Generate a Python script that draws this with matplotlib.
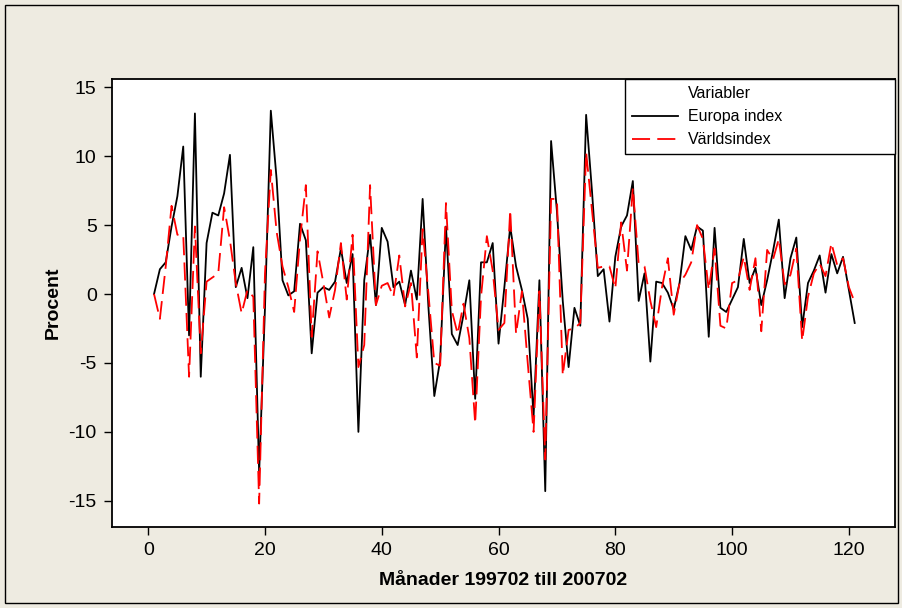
import numpy as np
import matplotlib
matplotlib.use("Agg")
import matplotlib.pyplot as plt
from matplotlib.patches import Rectangle

# Monthly returns, 199702 - 200702 (index 1..121)
europa = [0, 1.8, 2.3, 4.9, 7.1, 10.7, -3.0, 13.1, -6.0, 3.7,
          5.9, 5.7, 7.3, 10.1, 0.5, 1.9, -0.3, 3.4, -13.0, -1.0,
          13.3, 8.3, 1.0, -0.1, 0.2, 5.1, 3.9, -4.3, 0.1, 0.5,
          0.3, 0.9, 3.3, 0.8, 2.9, -10.0, 1.0, 4.3, -0.8, 4.8,
          3.8, 0.5, 0.9, -0.8, 1.7, -0.4, 6.9, -1.0, -7.4, -4.8,
          4.9, -2.9, -3.7, -1.5, 1.0, -7.6, 2.3, 2.3, 3.7, -3.6,
          0.5, 4.9, 2.0, 0.3, -1.8, -8.9, 1.0, -14.3, 11.1, 6.0,
          -0.5, -5.3, -1.0, -2.3, 13.0, 7.5, 1.3, 1.8, -2.0, 2.7,
          4.9, 5.7, 8.2, -0.5, 1.5, -4.9, 0.9, 0.8, 0.1, -1.1,
          0.8, 4.2, 3.2, 4.9, 4.6, -3.1, 4.8, -1.0, -1.3, -0.4,
          0.5, 4.0, 0.8, 1.9, -0.8, 1.0, 3.1, 5.4, -0.3, 2.6,
          4.1, -2.4, 0.8, 1.7, 2.8, 0.1, 2.9, 1.5, 2.7, 0.3,
          -2.1]
varlden = [0, -1.8, 2.0, 6.4, 4.3, 4.3, -6.0, 4.9, -4.3, 0.9,
           1.2, 1.5, 6.3, 3.9, 0.8, -1.4, 0.3, -0.2, -15.2, 1.5,
           9.0, 4.5, 2.0, 0.5, -1.3, 4.0, 7.9, -3.1, 3.1, 0.8,
           -1.7, 0.3, 3.7, -0.4, 4.3, -5.3, -3.7, 7.9, -0.8, 0.6,
           0.8, -0.2, 2.8, -0.9, 0.8, -4.6, 4.7, 0.0, -5.0, -5.2,
           6.6, -1.2, -2.9, -0.7, -3.2, -9.4, -0.2, 4.2, 1.7, -2.6,
           -2.1, 6.1, -2.9, 0.2, -5.0, -10.0, 0.2, -12.0, 6.9, 6.9,
           -5.9, -2.6, -2.5, -2.1, 10.3, 6.1, 1.9, 2.0, 2.0, 0.4,
           5.2, 1.7, 7.7, 2.2, 2.0, -0.5, -2.4, 0.5, 2.6, -1.5,
           0.8, 1.4, 2.3, 5.0, 4.0, 0.3, 3.3, -2.3, -2.5, 0.8,
           1.0, 2.7, 0.3, 2.6, -2.7, 3.2, 2.5, 4.0, 0.7, 1.4,
           3.3, -3.4, -0.2, 1.5, 2.2, 1.3, 3.7, 2.1, 2.6, 0.5,
           -0.6]
months = np.arange(1, len(europa) + 1)
xticks = [0, 20, 40, 60, 80, 100, 120]
yticks = [-15, -10, -5, 0, 5, 10, 15]

plt.rcParams['font.family'] = ['Liberation Sans', 'DejaVu Sans']
plt.rcParams['axes.unicode_minus'] = False

bg = '#EEEBE1'
fig = plt.figure(figsize=(9.03, 6.08), dpi=100, facecolor=bg)
# outer frame of the graph window
fig.patches.append(Rectangle((5 / 903, 5 / 608), 1 - 10 / 903, 1 - 10 / 608,
                             transform=fig.transFigure, fill=False,
                             edgecolor='black', linewidth=1.0))

ax = fig.add_axes([112 / 903, 81 / 608, 783 / 903, 448 / 608])
ax.set_facecolor('white')

ax.plot(months, europa, color='black', linewidth=1.3, label='Europa index')
ax.plot(months, varlden, color='red', linewidth=1.3, dashes=(10, 4),
        label='Världsindex')
# blank entry so the legend heading lines up with the labels
ax.plot([], [], color='none', label='Variabler')

ax.set_xlim(-6.2, 127.9)
ax.set_ylim(-16.9, 15.6)
ax.set_xticks(xticks)
ax.set_yticks(yticks)
ax.tick_params(direction='out', length=6, width=1, labelsize=14, pad=5)
for s in ax.spines.values():
    s.set_linewidth(1.3)

ax.set_xlabel('Månader 199702 till 200702', fontsize=14, fontweight='bold',
              labelpad=9)
ax.set_ylabel('Procent', fontsize=14, fontweight='bold', labelpad=5)

h, l = ax.get_legend_handles_labels()
leg = ax.legend([h[2], h[0], h[1]], [l[2], l[0], l[1]],
                loc='upper left', bbox_to_anchor=(0.655, 0, 0.345, 1.0),
                mode='expand', borderaxespad=0, fancybox=False,
                framealpha=1, edgecolor='black', fontsize=11.5,
                handlelength=2.9, handletextpad=0.6, labelspacing=0.5,
                borderpad=0.45)
leg.get_frame().set_linewidth(1.0)

fig.savefig('out.png', dpi=100, facecolor=bg)
